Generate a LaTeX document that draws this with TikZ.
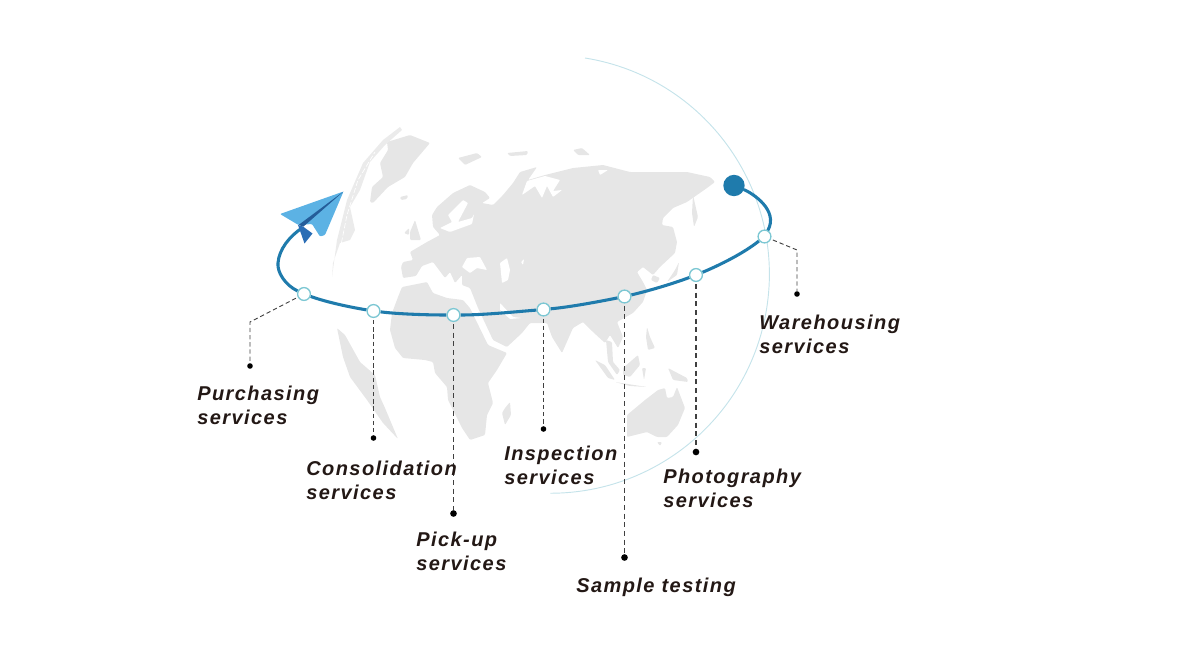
\documentclass[tikz,border=0pt]{standalone}
\usepackage{fontspec}
\setmainfont{Liberation Sans}
\newfontfamily\labelfont[LetterSpace=7.2,WordSpace=1.0]{Liberation Sans}
\usetikzlibrary{backgrounds}
\definecolor{orbitblue}{HTML}{1F7BAC}
\definecolor{ringblue}{HTML}{7CC7D3}
\definecolor{thinblue}{HTML}{C5E3EA}
\definecolor{landgray}{HTML}{E6E6E6}
\definecolor{sliver}{HTML}{EBEBEB}
\definecolor{labelink}{HTML}{231815}
\definecolor{planelight}{HTML}{5CB2E4}
\definecolor{planedark}{HTML}{2A6DB5}
\tikzset{
  stopring/.style={circle,draw=ringblue,fill=white,line width=1pt,minimum size=9.6pt,inner sep=0pt},
  enddot/.style={circle,fill=black,minimum size=4.2pt,inner sep=0pt},
  bigdot/.style={circle,fill=black,minimum size=5pt,inner sep=0pt},
  leader/.style={draw=black!75,line width=0.7pt,dash pattern=on 3.2pt off 2.2pt,shorten <=1.5pt},
  bigleader/.style={draw=black!75,line width=0.8pt,dash pattern=on 3.8pt off 2.7pt,shorten <=1.5pt},
  orbit/.style={draw=orbitblue,line width=2.3pt},
  land/.style={fill=landgray,draw=none,rounded corners=0.8pt},
  sea/.style={fill=white,draw=none,rounded corners=0.6pt},
  svc/.style={font=\labelfont\bfseries\itshape\fontsize{15}{18}\selectfont,text=labelink,align=left,anchor=north west,inner sep=0pt}
}
\begin{document}
\begin{tikzpicture}[x=0.75pt,y=-0.75pt]
\useasboundingbox (0,0) rectangle (1200,668);
% stops
\node[stopring] (s1) at (304,294) {};
\node[stopring] (s2) at (373.5,311) {};
\node[stopring] (s3) at (453.5,315) {};
\node[stopring] (s4) at (543.5,309.5) {};
\node[stopring] (s5) at (624.5,296.5) {};
\node[stopring] (s6) at (696,275) {};
\node[stopring] (s7) at (764.5,236.5) {};
\node[circle,fill=orbitblue,minimum size=16pt,inner sep=0pt] (start) at (734,185.5) {};
\coordinate (tail) at (302,228);
% leader ends
\node[enddot] (d1) at (250,366) {};
\node[enddot] (d2) at (373.5,438) {};
\node[bigdot] (d3) at (453.5,513.5) {};
\node[enddot] (d4) at (543.5,429) {};
\node[bigdot] (d5) at (624.5,557.5) {};
\node[bigdot] (d6) at (696,452) {};
\node[enddot] (d7) at (797,294) {};
\coordinate (k1) at (250,322);
\coordinate (k7) at (797,250);
% labels
\node[svc] (t1) at (197,386) {Purchasing\\services};
\node[svc] (t2) at (306,461) {Consolidation\\services};
\node[svc] (t3) at (416,532) {Pick-up\\services};
\node[svc] (t4) at (504,446) {Inspection\\services};
\node[svc] (t5) at (576,578) {Sample testing};
\node[svc] (t6) at (663,469) {Photography\\services};
\node[svc] (t7) at (759,315) {Warehousing\\services};
\begin{pgfonlayer}{background}
% Eurasia
\fill[land] (401,267)--(403,262)--(413,260)--(410,252)--(427,242)--(440,235)--(433,227)--(432,215)--(437,207)--(453,193)--(470,185)--(485,192)--(490,198)--(482,203)--(493,205)--(503,195)--(513,183)--(520,172)--(537,167)--(528,180)--(545,175)--(573,168)--(603,165)--(630,172)--(653,172)--(687,172)--(710,177)--(715,182)--(707,188)--(697,195)--(687,202)--(673,208)--(663,218)--(662,225)--(673,227)--(677,242)--(675,253)--(660,267)--(653,275)--(643,267)--(637,272)--(643,282)--(647,290)--(643,302)--(633,313)--(617,322)--(623,337)--(618,348)--(610,335)--(605,343)--(593,332)--(583,322)--(573,328)--(562,353)--(552,337)--(547,323)--(530,323)--(522,333)--(507,347)--(493,340)--(478,308)--(470,288)--(462,285)--(462,275)--(455,283)--(450,272)--(445,278)--(433,262)--(422,266)--(416,276)--(403,278)--cycle;
% Malay peninsula
\fill[land] (606,340)--(612,342)--(613,362)--(620,370)--(617,375)--(608,362)--cycle;
% Africa
\fill[land] (402,287)--(427,282)--(433,293)--(447,298)--(463,300)--(470,308)--(488,345)--(507,353)--(497,370)--(488,383)--(493,403)--(487,415)--(485,435)--(470,440)--(462,428)--(448,400)--(447,387)--(435,373)--(433,362)--(425,360)--(403,358)--(395,348)--(390,330)--(392,313)--(398,297)--cycle;
% seas
\fill[sea] (462,267)--(467,258)--(480,257)--(487,270)--(477,268)--(470,273)--cycle;
\fill[sea] (500,263)--(507,258)--(510,270)--(508,280)--(502,283)--cycle;
\fill[sea] (521,262)--(524,259)--(523,265)--cycle;
\fill[sea] (500,303)--(513,317)--(522,318)--(510,319)--(500,310)--cycle;
\fill[sea] (440,228)--(452,222)--(448,215)--(463,200)--(468,203)--(458,222)--(472,218)--(474,214)--(472,224)--(450,232)--cycle;
\fill[sea] (527,181)--(545,176)--(560,180)--(553,191)--(562,190)--(553,197)--(547,186)--(542,198)--(535,186)--(522,195)--cycle;
\fill[sea] (598,170)--(608,170)--(600,175)--cycle;
% Greenland, Iceland, British Isles
\fill[land] (370,202)--(372,187)--(383,177)--(380,163)--(388,150)--(387,142)--(410,135)--(430,143)--(413,163)--(405,177)--(388,187)--(373,203)--cycle;
\fill[land] (400,197)--(408,195)--(407,199)--(401,200)--cycle;
\fill[land] (410,232)--(415,220)--(421,240)--(410,240)--cycle;
\fill[land] (404,233)--(409,228)--(409,235)--cycle;
% Arctic islands
\fill[land] (458,158)--(477,153)--(482,157)--(465,165)--cycle;
\fill[land] (507,153)--(528,151)--(527,155)--(510,156)--cycle;
\fill[land] (573,150)--(582,148)--(590,155)--(578,155)--cycle;
% North America sliver
\fill[sliver] (332,277)--(337,240)--(347,200)--(363,163)--(383,140)--(400,127)--(402,130)--(385,145)--(370,162)--(360,190)--(350,207)--(355,230)--(350,240)--(340,243)--(333,263)--cycle;
\draw[white,line width=0.5pt,dash pattern=on 4pt off 1.5pt] (340,250)--(347,215)--(358,180)--(375,152);
% Sakhalin, Japan, Korea
\fill[land] (693,195)--(698,217)--(694,227)--(692,213)--cycle;
\fill[land] (679,262)--(677,275)--(667,282)--(675,270)--cycle;
\fill[land] (653,275)--(660,278)--(657,283)--(651,280)--cycle;
% South America
\fill[land] (337,328)--(345,335)--(360,362)--(375,375)--(380,397)--(385,408)--(398,439)--(383,423)--(367,400)--(350,377)--(343,357)--cycle;
% Madagascar
\fill[land] (510,402)--(511,415)--(505,425)--(502,413)--(505,408)--cycle;
% Indonesia and neighbours
\fill[land] (595,360)--(605,365)--(615,380)--(608,378)--cycle;
\fill[land] (623,368)--(638,355)--(640,365)--(630,377)--(623,375)--cycle;
\fill[land] (615,382)--(647,387)--(630,386)--cycle;
\fill[land] (668,368)--(687,378)--(688,382)--(673,380)--cycle;
\fill[land] (647,327)--(650,337)--(655,348)--(648,350)--(646,337)--cycle;
\fill[land] (642,368)--(646,368)--(644,380)--cycle;
% Australia, Tasmania
\fill[land] (627,415)--(645,400)--(658,390)--(665,388)--(667,398)--(673,397)--(677,387)--(685,408)--(678,425)--(667,437)--(657,437)--(647,432)--(627,437)--cycle;
\fill[land] (657,442)--(662,442)--(660,446)--cycle;
% thin globe outline
\draw[thinblue,line width=0.7pt] (585,58) arc[start angle=-80.9,end angle=90,radius=219];
% orbit
\draw[orbit,line cap=round] (start) .. controls (752,193) and (779,210) .. (s7);
\draw[orbit] (s7) .. controls (744,253) and (720,265) .. (s6);
\draw[orbit] (s6) .. controls (672,284) and (648,291) .. (s5);
\draw[orbit] (s5) .. controls (597,302) and (570,307) .. (s4);
\draw[orbit] (s4) .. controls (513,312) and (483,315) .. (s3);
\draw[orbit] (s3) .. controls (426,315) and (398,314) .. (s2);
\draw[orbit] (s2) .. controls (349,307) and (326,302) .. (s1);
\draw[orbit] (s1) .. controls (285,285) and (277,272) .. (278,263) .. controls (279,249) and (290,236) .. (tail);
% leaders
\draw[leader] (s1) -- (k1) -- (d1);
\draw[leader] (s2) -- (d2);
\draw[bigleader] (s3) -- (d3);
\draw[leader] (s4) -- (d4);
\draw[bigleader] (s5) -- (d5);
\draw[bigleader] (s6) -- (d6);
\draw[leader] (s7) -- (k7) -- (d7);
\end{pgfonlayer}
% paper plane
\fill[planelight,rounded corners=0.8pt] (343.5,191.5) -- (280,214) -- (298.5,225) -- (312,224) -- (320,236.5) -- (325,235) -- cycle;
\fill[planedark] (298,225) -- (304.5,243.5) -- (312.5,233.5) -- (303,226.5) -- cycle;
\fill[planedark!85!black] (298.5,225) -- (343.5,191.5) -- (303.5,226.5) -- cycle;
\end{tikzpicture}
\end{document}
